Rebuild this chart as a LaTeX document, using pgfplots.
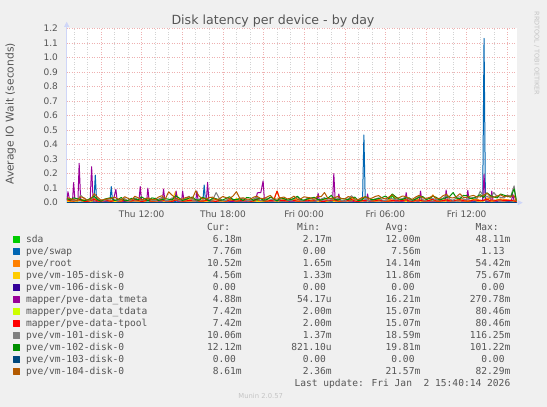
\documentclass[border=0pt]{standalone}
\usepackage{fontspec}
\setmainfont{DejaVu Sans}
\newfontfamily\legfont{DejaVu Sans Mono}
\usepackage{pgfplots}
\usepackage{pgfplotstable}
\pgfplotsset{compat=1.18}
\usetikzlibrary{arrows.meta}

\definecolor{bg}{HTML}{F0F0F0}
\definecolor{txt}{HTML}{555555}
\definecolor{faint}{HTML}{C4C4C4}
\definecolor{axiscol}{HTML}{CFD6F8}
\definecolor{mgrid}{HTML}{EEB0B0}
\definecolor{sgrid}{HTML}{D2D2D2}
\definecolor{c1}{HTML}{00CC00}
\definecolor{c2}{HTML}{0066B3}
\definecolor{c3}{HTML}{FF8000}
\definecolor{c4}{HTML}{FFCC00}
\definecolor{c5}{HTML}{330099}
\definecolor{c6}{HTML}{990099}
\definecolor{c7}{HTML}{CCFF00}
\definecolor{c8}{HTML}{FF0000}
\definecolor{c9}{HTML}{808080}
\definecolor{c10}{HTML}{008F00}
\definecolor{c11}{HTML}{00487D}
\definecolor{c12}{HTML}{B35A00}

% hours since Thu 00:00, latency in seconds
\pgfplotstableread{
t     sda    root   v105   tdata  v101   v102   v104
6.5   0.018  0.022  0.010  0.020  0.031  0.028  0.035
6.75  0.011  0.016  0.008  0.013  0.024  0.018  0.028
7.0   0.009  0.012  0.006  0.011  0.015  0.034  0.020
7.25  0.016  0.009  0.012  0.019  0.012  0.027  0.015
7.5   0.014  0.026  0.015  0.018  0.052  0.022  0.041
7.75  0.008  0.019  0.006  0.010  0.029  0.013  0.033
8.0   0.007  0.010  0.008  0.009  0.014  0.019  0.016
8.25  0.013  0.014  0.010  0.015  0.019  0.031  0.024
8.5   0.021  0.030  0.012  0.024  0.040  0.045  0.062
8.75  0.010  0.022  0.007  0.012  0.027  0.020  0.037
9.0   0.006  0.009  0.005  0.008  0.012  0.011  0.018
9.25  0.015  0.011  0.014  0.018  0.016  0.024  0.022
9.5   0.012  0.015  0.020  0.014  0.022  0.030  0.027
9.75  0.007  0.018  0.009  0.009  0.031  0.035  0.030
10.0  0.016  0.011  0.009  0.017  0.018  0.015  0.038
10.25 0.012  0.013  0.011  0.014  0.014  0.021  0.026
10.5  0.008  0.020  0.007  0.010  0.025  0.036  0.021
10.75 0.017  0.021  0.006  0.020  0.028  0.012  0.041
11.0  0.011  0.008  0.013  0.012  0.010  0.017  0.030
11.25 0.009  0.010  0.016  0.011  0.017  0.030  0.018
11.5  0.019  0.024  0.009  0.021  0.033  0.026  0.044
11.75 0.014  0.019  0.008  0.016  0.023  0.019  0.034
12.0  0.005  0.012  0.006  0.007  0.016  0.040  0.019
12.25 0.011  0.015  0.010  0.013  0.030  0.025  0.027
12.5  0.013  0.017  0.024  0.016  0.028  0.014  0.033
12.75 0.008  0.022  0.007  0.010  0.018  0.033  0.021
13.0  0.009  0.010  0.008  0.011  0.013  0.029  0.022
13.25 0.016  0.012  0.013  0.018  0.025  0.016  0.039
13.5  0.015  0.031  0.011  0.019  0.036  0.021  0.048
13.75 0.012  0.017  0.009  0.014  0.015  0.028  0.026
14.0  0.010  0.013  0.007  0.012  0.017  0.024  0.075
14.25 0.007  0.025  0.012  0.009  0.033  0.019  0.052
14.5  0.017  0.020  0.076  0.018  0.026  0.048  0.031
14.75 0.014  0.011  0.018  0.016  0.016  0.034  0.023
15.0  0.007  0.009  0.010  0.009  0.012  0.016  0.025
15.25 0.010  0.019  0.007  0.012  0.027  0.022  0.035
15.5  0.012  0.026  0.008  0.015  0.045  0.031  0.040
15.75 0.015  0.012  0.010  0.017  0.018  0.039  0.029
16.0  0.020  0.014  0.012  0.022  0.019  0.020  0.082
16.25 0.009  0.020  0.014  0.011  0.025  0.017  0.044
16.5  0.008  0.018  0.006  0.010  0.030  0.037  0.028
16.75 0.013  0.015  0.008  0.015  0.034  0.025  0.025
17.0  0.014  0.011  0.015  0.016  0.015  0.013  0.036
17.25 0.010  0.024  0.011  0.012  0.019  0.032  0.038
17.5  0.006  0.023  0.009  0.008  0.070  0.027  0.020
17.75 0.016  0.013  0.007  0.018  0.028  0.018  0.027
18.0  0.011  0.009  0.007  0.014  0.014  0.019  0.043
18.25 0.008  0.018  0.013  0.010  0.016  0.030  0.034
18.5  0.016  0.028  0.012  0.020  0.032  0.041  0.029
18.75 0.014  0.011  0.009  0.016  0.023  0.020  0.046
19.0  0.009  0.012  0.030  0.011  0.018  0.022  0.076
19.25 0.011  0.022  0.016  0.013  0.031  0.027  0.030
19.5  0.013  0.019  0.008  0.017  0.027  0.015  0.034
19.75 0.017  0.014  0.006  0.019  0.017  0.036  0.025
20.0  0.007  0.010  0.010  0.009  0.012  0.033  0.023
20.25 0.009  0.019  0.012  0.011  0.026  0.016  0.037
20.5  0.018  0.025  0.006  0.023  0.038  0.025  0.045
20.75 0.013  0.012  0.008  0.015  0.015  0.029  0.031
21.0  0.010  0.013  0.014  0.013  0.020  0.018  0.027
21.25 0.008  0.021  0.011  0.010  0.032  0.021  0.039
21.5  0.014  0.016  0.009  0.015  0.024  0.039  0.050
21.75 0.015  0.015  0.007  0.017  0.019  0.027  0.028
22.0  0.006  0.011  0.007  0.080  0.015  0.012  0.024
22.25 0.011  0.018  0.014  0.013  0.024  0.034  0.033
22.5  0.012  0.022  0.011  0.016  0.029  0.028  0.039
22.75 0.009  0.013  0.009  0.011  0.017  0.019  0.026
23.0  0.017  0.009  0.018  0.019  0.013  0.021  0.030
23.25 0.014  0.020  0.012  0.016  0.028  0.030  0.045
23.5  0.008  0.027  0.008  0.010  0.042  0.044  0.021
23.75 0.010  0.011  0.007  0.012  0.014  0.022  0.027
24.0  0.013  0.012  0.006  0.014  0.018  0.017  0.041
24.25 0.016  0.023  0.010  0.018  0.030  0.026  0.036
24.5  0.010  0.018  0.013  0.012  0.026  0.032  0.033
24.75 0.012  0.014  0.015  0.014  0.020  0.037  0.024
25.0  0.019  0.010  0.009  0.021  0.016  0.023  0.046
25.25 0.008  0.019  0.008  0.010  0.025  0.018  0.041
25.5  0.007  0.024  0.007  0.009  0.035  0.027  0.070
25.75 0.013  0.012  0.011  0.015  0.018  0.031  0.030
26.0  0.015  0.013  0.016  0.017  0.021  0.050  0.029
26.25 0.017  0.024  0.007  0.019  0.034  0.024  0.035
26.5  0.009  0.021  0.008  0.011  0.030  0.018  0.044
26.75 0.010  0.015  0.013  0.012  0.016  0.029  0.028
27.0  0.012  0.008  0.010  0.014  0.011  0.026  0.025
27.25 0.014  0.021  0.009  0.016  0.027  0.021  0.042
27.5  0.018  0.029  0.007  0.022  0.048  0.035  0.037
27.75 0.009  0.013  0.012  0.011  0.020  0.038  0.026
28.0  0.006  0.011  0.012  0.008  0.017  0.014  0.022
28.25 0.012  0.019  0.008  0.014  0.029  0.019  0.034
28.5  0.014  0.017  0.009  0.016  0.025  0.042  0.040
28.75 0.016  0.011  0.014  0.018  0.015  0.032  0.029
29.0  0.010  0.012  0.020  0.012  0.019  0.020  0.031
29.25 0.011  0.020  0.009  0.013  0.026  0.023  0.043
29.5  0.016  0.025  0.006  0.019  0.033  0.029  0.049
29.75 0.013  0.014  0.007  0.015  0.019  0.035  0.032
30.0  0.008  0.010  0.011  0.010  0.014  0.046  0.026
30.25 0.009  0.022  0.012  0.011  0.031  0.028  0.038
30.5  0.048  0.019  0.008  0.015  0.027  0.060  0.055
30.75 0.015  0.012  0.010  0.017  0.020  0.041  0.030
31.0  0.011  0.014  0.013  0.013  0.021  0.025  0.034
31.25 0.012  0.018  0.008  0.014  0.028  0.022  0.046
31.5  0.017  0.022  0.007  0.020  0.039  0.033  0.043
31.75 0.010  0.025  0.013  0.012  0.023  0.034  0.027
32.0  0.007  0.009  0.010  0.009  0.013  0.017  0.024
32.25 0.016  0.013  0.009  0.018  0.030  0.025  0.040
32.5  0.014  0.027  0.009  0.017  0.044  0.038  0.051
32.75 0.011  0.020  0.011  0.013  0.019  0.043  0.033
33.0  0.010  0.012  0.015  0.012  0.018  0.022  0.030
33.25 0.014  0.015  0.007  0.016  0.034  0.029  0.036
33.5  0.020  0.054  0.008  0.024  0.028  0.045  0.047
33.75 0.009  0.022  0.014  0.011  0.022  0.037  0.031
34.0  0.008  0.013  0.012  0.010  0.020  0.019  0.028
34.25 0.013  0.016  0.010  0.015  0.031  0.026  0.048
34.5  0.015  0.024  0.006  0.018  0.050  0.036  0.058
34.75 0.011  0.020  0.008  0.013  0.024  0.044  0.035
35.0  0.012  0.011  0.018  0.014  0.016  0.070  0.033
35.25 0.016  0.014  0.013  0.018  0.036  0.031  0.042
35.5  0.018  0.030  0.009  0.021  0.041  0.027  0.062
35.75 0.012  0.023  0.009  0.014  0.025  0.050  0.037
36.0  0.009  0.014  0.013  0.011  0.022  0.048  0.036
36.25 0.010  0.016  0.015  0.012  0.033  0.029  0.045
36.5  0.016  0.021  0.020  0.019  0.035  0.031  0.050
36.75 0.015  0.024  0.010  0.017  0.027  0.042  0.039
37.0  0.011  0.016  0.008  0.013  0.080  0.055  0.041
37.25 0.013  0.018  0.012  0.015  0.040  0.036  0.052
37.5  0.021  0.033  0.014  0.025  0.045  0.068  0.066
37.75 0.011  0.026  0.009  0.013  0.031  0.049  0.040
38.0  0.010  0.015  0.010  0.012  0.070  0.039  0.038
38.25 0.016  0.019  0.014  0.018  0.042  0.033  0.047
38.5  0.017  0.026  0.012  0.020  0.037  0.060  0.054
38.75 0.012  0.023  0.010  0.014  0.033  0.052  0.041
39.0  0.013  0.020  0.016  0.015  0.052  0.044  0.046
39.25 0.014  0.017  0.013  0.016  0.045  0.038  0.044
39.5  0.009  0.018  0.011  0.012  0.116  0.095  0.048
39.67 0.00618 0.01052 0.00456 0.00742 0.01006 0.01212 0.00861
}\disks

\newcommand{\row}[5]{\makebox[0pt][l]{#1}\makebox[215.7pt][r]{#2}\makebox[90pt][r]{#3}\makebox[88.6pt][r]{#4}\makebox[90pt][r]{#5}}

\begin{document}
\begin{tikzpicture}
\fill[bg] (0,0) rectangle (547pt,407pt);
\useasboundingbox (0,0) rectangle (547pt,407pt);
\begin{axis}[
  at={(66.7pt,204.3pt)}, anchor=south west,
  scale only axis, width=450pt, height=174.4pt,
  xmin=6.47, xmax=39.69, ymin=0, ymax=1.2,
  axis lines=left,
  axis line style={draw=axiscol, line width=0.8pt},
  x axis line style={-{Triangle[length=5pt,width=5pt]}, shorten >=-6pt},
  y axis line style={-{Triangle[length=5pt,width=5pt]}, shorten >=-6.5pt},
  axis background/.style={fill=white},
  xtick={9,12,15,18,21,24,27,30,33,36,39},
  xticklabels={,Thu 12:00,,Thu 18:00,,Fri 00:00,,Fri 06:00,,Fri 12:00,},
  minor xtick={7,8,10,11,13,14,16,17,19,20,22,23,25,26,28,29,31,32,34,35,37,38},
  ytick={0,0.1,0.2,0.3,0.4,0.5,0.6,0.7,0.8,0.9,1,1.1,1.2},
  yticklabels={0.0,0.1,0.2,0.3,0.4,0.5,0.6,0.7,0.8,0.9,1.0,1.1,1.2},
  grid=both,
  major grid style={draw=mgrid, dash pattern=on 1pt off 1.5pt, line width=0.6pt},
  minor grid style={draw=sgrid, dash pattern=on 1pt off 1.5pt, line width=0.6pt},
  tick style={draw=none},
  ticklabel style={font=\fontsize{9}{10}\selectfont, text=txt, inner sep=0pt},
  yticklabel style={xshift=-6.5pt},
  xticklabel style={yshift=-6pt},
  title={Disk latency per device - by day},
  every axis title/.style={at={(axis description cs:0.4584,1.0419)}, anchor=center,
    font=\fontsize{12.6}{14}\selectfont, text=txt, inner sep=0pt},
  ylabel={Average IO Wait (seconds)},
  every axis y label/.style={at={(axis description cs:-0.1244,0.509)},
    rotate=90, anchor=center, font=\fontsize{10.7}{12}\selectfont, text=txt},
  no markers,
  every axis plot/.append style={line width=1pt, line join=round},
  legend cell align=left,
  legend image code/.code={\fill[#1] (0pt,-3pt) rectangle (6pt,3pt);},
  legend style={at={(axis description cs:-0.1193,-0.109)}, anchor=north west,
    draw=none, fill=none, inner sep=0pt, outer sep=0pt, row sep=0pt,
    column sep=6pt, font=\legfont\fontsize{9.6}{11}\selectfont, text=txt,
    nodes={inner sep=0pt, text height=9pt, text depth=3pt}},
]
\addlegendimage{empty legend}
\addlegendentry{\row{}{Cur:\phantom{mm}}{Min:\phantom{mm}}{Avg:\phantom{mm}}{Max:\phantom{mm}}}

\addplot[c1] table[x=t, y=sda] {\disks};
\addlegendentry{\row{sda}{6.18m}{2.17m}{12.00m}{48.11m}}

\addplot[c2] coordinates {
 (6.50,0.006)(7.50,0.004)(8.48,0.008)(8.58,0.190)(8.68,0.006)(9.66,0.010)
 (9.76,0.110)(9.86,0.005)(11.00,0.007)(12.50,0.003)(14.00,0.008)(15.50,0.004)
 (16.52,0.009)(16.62,0.122)(16.72,0.006)(18.00,0.005)(19.50,0.008)(21.00,0.003)
 (22.50,0.007)(24.00,0.004)(25.50,0.009)(27.00,0.005)(28.31,0.008)(28.41,0.466)
 (28.51,0.006)(30.00,0.004)(31.50,0.008)(33.00,0.005)(34.50,0.007)(36.00,0.004)
 (37.18,0.010)(37.28,1.131)(37.38,0.009)(38.50,0.006)(39.67,0.00776)
};
\addlegendentry{\row{pve/swap}{7.76m}{0.00\phantom{m}}{7.56m}{1.13\phantom{m}}}

\addplot[c3] table[x=t, y=root] {\disks};
\addlegendentry{\row{pve/root}{10.52m}{1.65m}{14.14m}{54.42m}}

\addplot[c4] table[x=t, y=v105] {\disks};
\addlegendentry{\row{pve/vm-105-disk-0}{4.56m}{1.33m}{11.86m}{75.67m}}

\addplot[c5] coordinates {(6.47,0) (39.69,0)};
\addlegendentry{\row{pve/vm-106-disk-0}{0.00\phantom{m}}{0.00\phantom{m}}{0.00\phantom{m}}{0.00\phantom{m}}}

\addplot[c6] coordinates {
 (6.50,0.020)(6.56,0.076)(6.70,0.012)(6.90,0.015)(6.98,0.138)(7.08,0.014)
 (7.30,0.018)(7.39,0.271)(7.50,0.016)(7.80,0.010)(8.20,0.015)(8.31,0.248)
 (8.42,0.012)(8.90,0.008)(9.40,0.012)(9.90,0.010)(10.02,0.060)(10.10,0.092)
 (10.20,0.012)(10.70,0.009)(11.20,0.014)(11.80,0.012)(11.90,0.110)(12.00,0.012)
 (12.38,0.015)(12.46,0.100)(12.56,0.010)(13.00,0.013)(13.52,0.010)(13.62,0.094)
 (13.72,0.012)(14.10,0.009)(14.47,0.014)(14.55,0.080)(14.65,0.010)(14.95,0.012)
 (15.03,0.080)(15.13,0.011)(15.60,0.013)(16.00,0.012)(16.08,0.080)(16.18,0.010)
 (16.78,0.015)(16.87,0.140)(16.97,0.012)(17.50,0.010)(18.00,0.014)(18.60,0.009)
 (19.20,0.012)(19.80,0.010)(20.40,0.013)(20.55,0.068)(20.80,0.070)(20.97,0.150)
 (21.07,0.012)(21.60,0.011)(22.20,0.014)(22.80,0.009)(23.40,0.012)(24.00,0.010)
 (24.60,0.013)(24.95,0.012)(25.03,0.065)(25.13,0.010)(25.60,0.014)(26.10,0.015)
 (26.19,0.200)(26.29,0.012)(26.48,0.014)(26.56,0.060)(26.66,0.010)(27.20,0.012)
 (27.80,0.009)(28.30,0.012)(28.60,0.011)(28.68,0.060)(28.78,0.010)(29.40,0.013)
 (30.00,0.010)(30.60,0.012)(31.20,0.009)(31.45,0.013)(31.53,0.070)(31.63,0.010)
 (32.20,0.012)(32.50,0.011)(32.59,0.080)(32.69,0.012)(33.30,0.010)(33.90,0.013)
 (34.40,0.012)(34.48,0.087)(34.58,0.010)(35.20,0.014)(35.70,0.011)(36.00,0.012)
 (36.08,0.085)(36.18,0.010)(36.70,0.013)(37.18,0.014)(37.28,0.195)(37.38,0.012)
 (37.77,0.011)(37.85,0.080)(37.95,0.010)(38.60,0.013)(39.30,0.012)(39.40,0.060)
 (39.50,0.010)(39.67,0.00488)
};
\addlegendentry{\row{mapper/pve-data\_tmeta}{4.88m}{54.17u}{16.21m}{270.78m}}

\addplot[c7] table[x=t, y=tdata] {\disks};
\addlegendentry{\row{mapper/pve-data\_tdata}{7.42m}{2.00m}{15.07m}{80.46m}}

\addplot[c8] table[x=t, y=tdata] {\disks};
\addlegendentry{\row{mapper/pve-data-tpool}{7.42m}{2.00m}{15.07m}{80.46m}}

\addplot[c9] table[x=t, y=v101] {\disks};
\addlegendentry{\row{pve/vm-101-disk-0}{10.06m}{1.37m}{18.59m}{116.25m}}

\addplot[c10] table[x=t, y=v102] {\disks};
\addlegendentry{\row{pve/vm-102-disk-0}{12.12m}{821.10u}{19.81m}{101.22m}}

\addplot[c11] coordinates {(6.47,0) (39.69,0)};
\addlegendentry{\row{pve/vm-103-disk-0}{0.00\phantom{m}}{0.00\phantom{m}}{0.00\phantom{m}}{0.00\phantom{m}}}

\addplot[c12] table[x=t, y=v104] {\disks};
\addlegendentry{\row{pve/vm-104-disk-0}{8.61m}{2.36m}{21.57m}{82.29m}}

\addlegendimage{empty legend}
\addlegendentry{\makebox[484.3pt][r]{Last update: Fri Jan\ \ 2 15:40:14 2026}}
\end{axis}
\node[font=\fontsize{6.8}{8}\selectfont, text=faint] at (260.7pt,11pt) {Munin 2.0.57};
\node[font=\fontsize{6.5}{8}\selectfont, text=faint, rotate=-90] at (536.7pt,353.6pt) {RRDTOOL / TOBI OETIKER};
\end{tikzpicture}
\end{document}
